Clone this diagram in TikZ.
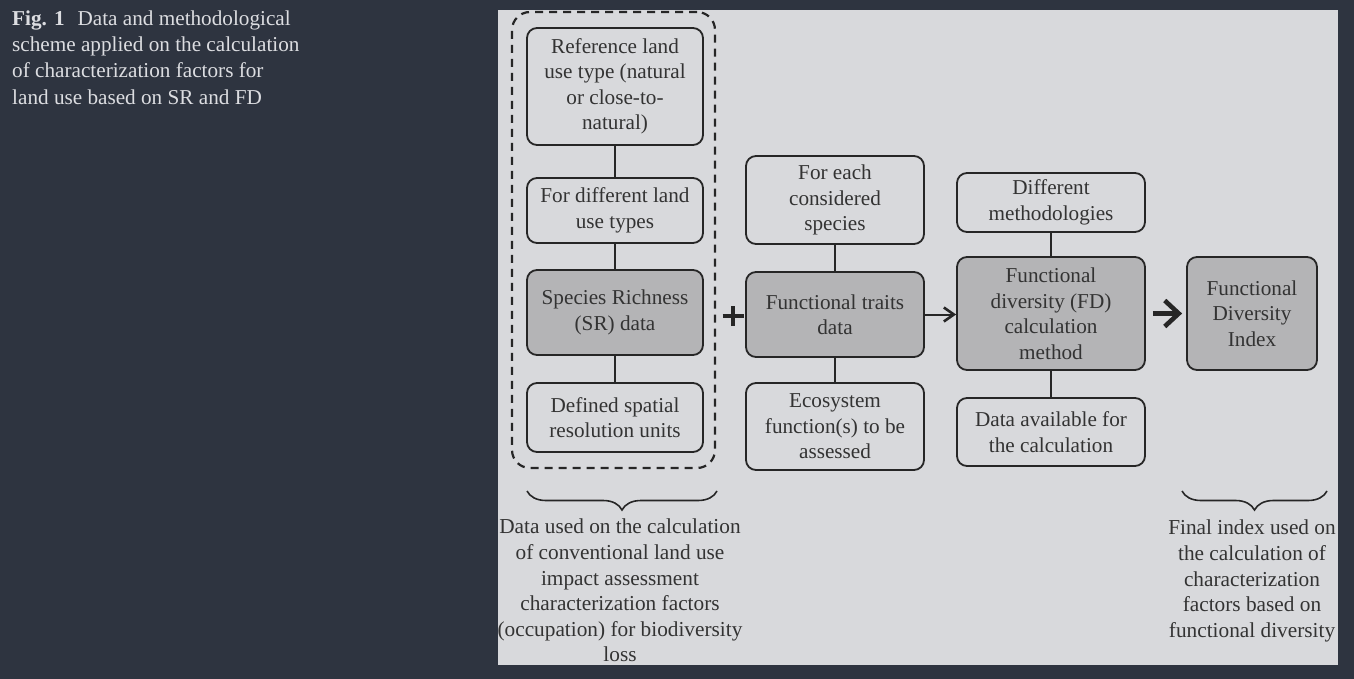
\documentclass[tikz,border=0pt]{standalone}
\usepackage{fontspec}
\setmainfont{Liberation Serif}
\usetikzlibrary{arrows.meta,decorations.pathreplacing}
\definecolor{bgdark}{HTML}{2E3440}
\definecolor{panel}{HTML}{D8D9DC}
\definecolor{boxgray}{HTML}{B4B4B6}
\definecolor{ink}{HTML}{262626}
\definecolor{txt}{HTML}{333333}
\definecolor{captxt}{HTML}{DCDDE1}
\tikzset{
  box/.style={draw=ink, line width=1.8pt, rounded corners=10pt, fill=panel,
    align=center, text=txt, inner sep=0pt,
    font=\fontsize{21.2}{25.5}\selectfont},
  graybox/.style={box, fill=boxgray},
  link/.style={draw=ink, line width=1.8pt},
  bracestyle/.style={draw=ink, line width=1.6pt, decorate,
    decoration={brace, mirror, amplitude=19pt}},
  bracetext/.style={align=center, text=txt, inner sep=0pt, anchor=north,
    font=\fontsize{21.3}{25.6}\selectfont}
}
\begin{document}
\begin{tikzpicture}[x=1pt,y=-1pt]
\fill[bgdark] (0,0) rectangle (1354,679);
\useasboundingbox (0,0) rectangle (1354,679);
\fill[panel] (498,10) rectangle (1338,665);

% caption
\node[anchor=north west, align=left, text=captxt, inner sep=0pt,
  font=\fontsize{21.2}{26.2}\selectfont] (cap) at (12,10.5)
  {\textbf{Fig. 1}\hspace{13pt}Data and methodological\\
   scheme applied on the calculation\\
   of characterization factors for\\
   land use based on SR and FD};

% dashed group
\node[draw=ink, line width=2.2pt, dash pattern=on 8pt off 6pt,
  rounded corners=18pt, minimum width=203pt, minimum height=456pt,
  inner sep=0pt] (grp) at (613.5,240) {};

% column 1
\node[box, minimum width=176pt, minimum height=117pt] (ref) at (615,86.5)
  {Reference land\\use type (natural\\or close-to-\\natural)};
\node[box, minimum width=176pt, minimum height=65pt] (diff) at (615,210.5)
  {For different land\\use types};
\node[graybox, minimum width=176pt, minimum height=85pt] (sr) at (615,312.5)
  {Species Richness\\(SR) data};
\node[box, minimum width=176pt, minimum height=69pt] (def) at (615,417.5)
  {Defined spatial\\resolution units};

% column 2
\node[box, minimum width=178pt, minimum height=88pt] (each) at (835,200)
  {For each\\considered\\species};
\node[graybox, minimum width=178pt, minimum height=85pt] (ft) at (835,314.5)
  {Functional traits\\data};
\node[box, minimum width=178pt, minimum height=87pt] (eco) at (835,426.5)
  {Ecosystem\\function(s) to be\\assessed};

% column 3
\node[box, minimum width=188pt, minimum height=59pt] (meth) at (1051,202.5)
  {Different\\methodologies};
\node[graybox, minimum width=188pt, minimum height=113pt] (fd) at (1051,313.5)
  {Functional\\diversity (FD)\\calculation\\method};
\node[box, minimum width=188pt, minimum height=68pt] (avail) at (1051,432)
  {Data available for\\the calculation};

% column 4
\node[graybox, minimum width=130pt, minimum height=113pt] (fdi) at (1252,313.5)
  {Functional\\Diversity\\Index};

% vertical links
\draw[link] (ref) -- (diff);
\draw[link] (diff) -- (sr);
\draw[link] (sr) -- (def);
\draw[link] (each) -- (ft);
\draw[link] (ft) -- (eco);
\draw[link] (meth) -- (fd);
\draw[link] (fd) -- (avail);

% plus sign
\coordinate (plus) at (733,316);
\draw[ink, line width=3.5pt] ([xshift=-10.5pt]plus) -- ([xshift=10.5pt]plus);
\draw[ink, line width=3.5pt] ([yshift=-10pt]plus) -- ([yshift=10pt]plus);

% arrows
\draw[link, line width=2pt, -{Straight Barb[length=10pt,width=14pt,line width=2.6pt]}]
  (ft.east) -- (ft.east -| fd.west);
\draw[ink, line width=5pt, -{Straight Barb[length=14pt,width=26pt,line width=4.6pt]}]
  ([xshift=7pt]fd.east) -- ([xshift=-4pt]fdi.west);

% braces
\coordinate (b1l) at (527,491);
\coordinate (b1r) at (717,491);
\coordinate (b2l) at (1182,491);
\coordinate (b2r) at (1327,491);
\draw[bracestyle] (b1l) -- (b1r);
\draw[bracestyle] (b2l) -- (b2r);

\node[bracetext] (t1) at (620,519)
  {Data used on the calculation\\of conventional land use\\impact assessment\\characterization factors\\(occupation) for biodiversity\\loss};
\node[bracetext] (t2) at (1252,520)
  {Final index used on\\the calculation of\\characterization\\factors based on\\functional diversity};
\end{tikzpicture}
\end{document}
